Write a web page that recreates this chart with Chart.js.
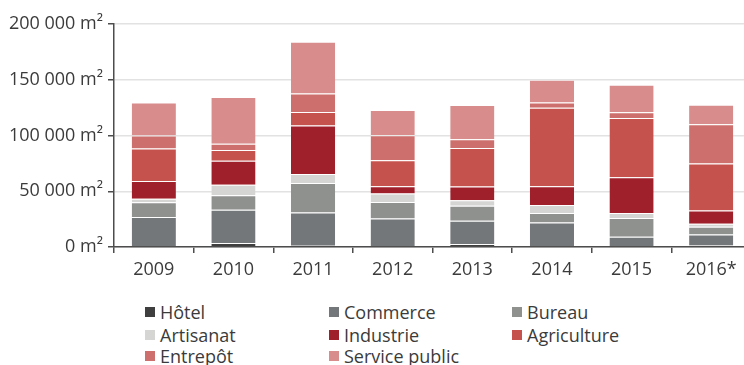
<!DOCTYPE html>
<html lang="fr">
<head>
<meta charset="utf-8">
<script src="https://cdn.jsdelivr.net/npm/chart.js@4/dist/chart.umd.min.js"></script>
<style>
  html, body { margin: 0; padding: 0; background: #fff; }
  body { width: 744px; height: 365px; overflow: hidden; position: relative; font-family: "Open Sans", sans-serif; color: #3b3b3b; }
  #wrap { position: absolute; left: 0; top: 0; width: 752px; height: 300px; }
  .leg { position: absolute; font-size: 18px; line-height: 22px; white-space: nowrap; }
  .leg i { position: absolute; left: 0; top: 6px; width: 10px; height: 10px; }
  .leg span { position: absolute; left: 15px; top: 0; }
</style>
</head>
<body>
<div id="wrap"><canvas id="surfaces" width="752" height="300"></canvas></div>
<div id="legende"></div>
<script>
/* surfaces autorisées par destination, en m² */
const annees = ['2009', '2010', '2011', '2012', '2013', '2014', '2015', '2016*'];

const hotel        = [0,     3600,  1200,  0,     2700,  0,     0,     1500];
const commerce     = [26800, 29700, 29800, 25600, 20800, 22000, 9200,  9800];
const bureau       = [13400, 13100, 26400, 14800, 13400, 8600,  16700, 6800];
const artisanat    = [3000,  9500,  8000,  7500,  5100,  7100,  4500,  2700];
const industrie    = [16000, 21400, 43500, 6500,  12200, 16700, 32100, 12000];
const agriculture  = [29200, 9800,  12200, 23500, 34500, 70500, 53300, 42000];
const entrepot     = [11600, 5400,  16600, 22300, 8000,  4700,  5000,  35400];
const servicePublic = [29500, 42000, 46400, 22700, 30700, 20500, 24700, 17300];

const series = [
  { nom: 'Hôtel',          val: hotel,         coul: '#3f3f3f' },
  { nom: 'Commerce',       val: commerce,      coul: '#747779' },
  { nom: 'Bureau',         val: bureau,        coul: '#8f918f' },
  { nom: 'Artisanat',      val: artisanat,     coul: '#d5d6d4' },
  { nom: 'Industrie',      val: industrie,     coul: '#9f1f2b' },
  { nom: 'Agriculture',    val: agriculture,   coul: '#c6524d' },
  { nom: 'Entrepôt',       val: entrepot,      coul: '#cd6f6c' },
  { nom: 'Service public', val: servicePublic, coul: '#d88c8c' }
];

const graduations = [0, 50000, 100000, 150000, 200000];

function fmtM2(v) {
  return String(v).replace(/\B(?=(\d{3})+(?!\d))/g, ' ') + ' m²';
}

const police = { family: '"Open Sans", sans-serif', size: 18 };
const axe = '#4d4d4d';

new Chart(document.getElementById('surfaces'), {
  type: 'bar',
  data: {
    labels: annees,
    datasets: series.map(s => ({
      label: s.nom,
      data: s.val,
      backgroundColor: s.coul,
      borderColor: 'rgba(255,255,255,0.65)',
      borderWidth: { top: 1 },
      barPercentage: 0.555,
      categoryPercentage: 1
    }))
  },
  options: {
    responsive: false,
    animation: false,
    devicePixelRatio: 1,
    layout: { padding: { top: 24, right: 1, left: 0, bottom: 0 } },
    plugins: { legend: { display: false }, tooltip: { enabled: false } },
    scales: {
      x: {
        stacked: true,
        grid: { drawOnChartArea: false, drawTicks: true, tickLength: 6, tickColor: axe, lineWidth: 1.5 },
        border: { color: axe, width: 1.5 },
        ticks: { color: '#3b3b3b', font: police, padding: 6, maxRotation: 0 },
        afterFit: s => { s.height = 53; }
      },
      y: {
        stacked: true,
        min: graduations[0],
        max: graduations[graduations.length - 1],
        afterBuildTicks: s => { s.ticks = graduations.map(v => ({ value: v })); },
        grid: { color: '#e2e2e2', lineWidth: 1.5, tickLength: 6, tickColor: axe },
        border: { color: axe, width: 1.5 },
        ticks: { color: '#3b3b3b', font: police, padding: 5, callback: v => fmtM2(v) },
        afterFit: s => { s.width = 114; }
      }
    }
  }
});

/* légende sur trois colonnes */
const colonnes = [145, 329, 512];
const lignes = [301, 324, 345];
const leg = document.getElementById('legende');
series.forEach((s, i) => {
  const d = document.createElement('div');
  d.className = 'leg';
  d.style.left = colonnes[i % 3] + 'px';
  d.style.top = lignes[Math.floor(i / 3)] + 'px';
  d.innerHTML = `<i style="background:${s.coul}"></i><span>${s.nom}</span>`;
  leg.appendChild(d);
});
</script>
</body>
</html>
